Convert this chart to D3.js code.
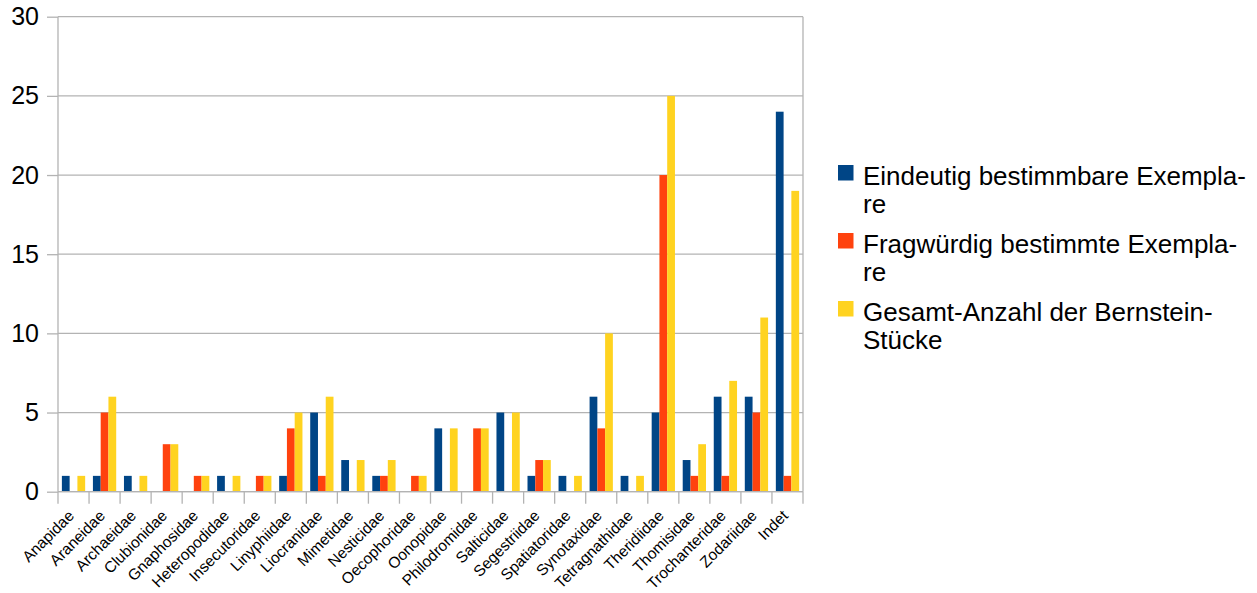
<!DOCTYPE html>
<html>
<head>
<meta charset="utf-8">
<script src="https://cdn.jsdelivr.net/npm/d3@7"></script>
<style>
  html, body { margin: 0; padding: 0; background: #fff; }
  svg { display: block; font-family: "Liberation Sans", Arial, sans-serif; }
</style>
</head>
<body>
<svg id="chart" width="1257" height="593"></svg>
<script>
// Spider families found in amber
const families = ["Anapidae", "Araneidae", "Archaeidae", "Clubionidae", "Gnaphosidae",
  "Heteropodidae", "Insecutoridae", "Linyphiidae", "Liocranidae", "Mimetidae",
  "Nesticidae", "Oecophoridae", "Oonopidae", "Philodromidae", "Salticidae",
  "Segestriidae", "Spatiatoridae", "Synotaxidae", "Tetragnathidae", "Theridiidae",
  "Thomisidae", "Trochanteridae", "Zodariidae", "Indet"];

const eindeutig  = [1, 1, 1, 0, 0, 1, 0, 1, 5, 2, 1, 0, 4, 0, 5, 1, 1, 6, 1, 5, 2, 6, 6, 24];
const fragwuerdig = [0, 5, 0, 3, 1, 0, 1, 4, 1, 0, 1, 1, 0, 4, 0, 2, 0, 4, 0, 20, 1, 1, 5, 1];
const gesamt     = [1, 6, 1, 3, 1, 1, 1, 5, 6, 2, 2, 1, 4, 4, 5, 2, 1, 10, 1, 25, 3, 7, 11, 19];

const seriesNames = ["Eindeutig bestimmbare Exemplare", "Fragwürdig bestimmte Exemplare", "Gesamt-Anzahl der Bernstein-Stücke"];
const legendLines = [
  ["Eindeutig bestimmbare Exempla-", "re"],
  ["Fragwürdig bestimmte Exempla-", "re"],
  ["Gesamt-Anzahl der Bernstein-", "Stücke"]
];
const seriesValues = [eindeutig, fragwuerdig, gesamt];
const colors = ["#004586", "#ff420e", "#ffd320"];
const yTicks = [0, 5, 10, 15, 20, 25, 30];

const svg = d3.select("#chart");
const plot = { left: 58, right: 803, top: 16.7, bottom: 491.7 };
const gridColor = "#b3b3b3";

const x0 = d3.scaleBand().domain(families).range([plot.left, plot.right]).paddingInner(0).paddingOuter(0);
const bw = x0.bandwidth();
const x1 = d3.scaleBand().domain(d3.range(seriesNames.length)).range([bw / 8, bw * 7 / 8]);
const y = d3.scaleLinear().domain([0, 30]).range([plot.bottom, plot.top]);

// horizontal gridlines
svg.append("g").selectAll("line").data(yTicks).join("line")
  .attr("x1", plot.left).attr("x2", plot.right)
  .attr("y1", d => y(d)).attr("y2", d => y(d))
  .attr("stroke", gridColor).attr("stroke-width", 1.3);

// right-hand border of the plot area
svg.append("line")
  .attr("x1", plot.right).attr("x2", plot.right)
  .attr("y1", plot.top).attr("y2", plot.bottom)
  .attr("stroke", gridColor).attr("stroke-width", 1.3);

// bars
const rows = families.map((f, i) => seriesValues.map((vals, s) => ({ f, s, v: vals[i] })));
svg.append("g").selectAll("g").data(rows).join("g")
  .attr("transform", d => `translate(${x0(d[0].f)},0)`)
  .selectAll("rect").data(d => d.filter(e => e.v > 0)).join("rect")
  .attr("x", d => x1(d.s))
  .attr("width", x1.bandwidth())
  .attr("y", d => y(d.v))
  .attr("height", d => y(0) - y(d.v))
  .attr("fill", d => colors[d.s]);

// y axis
const yAxis = d3.axisLeft(y).tickValues(yTicks).tickSize(11).tickPadding(8);
const gy = svg.append("g").attr("transform", `translate(${plot.left},0)`).call(yAxis);
gy.select(".domain").attr("stroke", gridColor).attr("stroke-width", 1.3)
  .attr("d", `M0,${plot.top}V${plot.bottom}`);
gy.selectAll(".tick line").attr("stroke", gridColor).attr("stroke-width", 1.3);
gy.selectAll(".tick text").attr("font-size", 25).attr("fill", "#000")
  .attr("font-family", "Liberation Sans, Arial, sans-serif");

// x axis with ticks at category boundaries
const gx = svg.append("g").attr("transform", `translate(0,${plot.bottom})`);
gx.append("line").attr("x1", plot.left).attr("x2", plot.right)
  .attr("stroke", gridColor).attr("stroke-width", 1.3);
const bounds = families.map(f => x0(f)).concat([plot.right]);
gx.selectAll("line.tk").data(bounds).join("line").attr("class", "tk")
  .attr("x1", d => d).attr("x2", d => d).attr("y1", 0).attr("y2", 12)
  .attr("stroke", gridColor).attr("stroke-width", 1.3);
gx.selectAll("text").data(families).join("text")
  .attr("transform", d => `translate(${x0(d) + bw / 2 + 1.5},${25}) rotate(-45)`)
  .attr("text-anchor", "end")
  .attr("font-size", 15.5)
  .attr("fill", "#000")
  .text(d => d);

// legend
const legend = svg.append("g");
legendLines.forEach((lines, i) => {
  const top = 165 + i * 68;
  legend.append("rect").attr("x", 838).attr("y", top).attr("width", 15.5).attr("height", 15.5)
    .attr("fill", colors[i]);
  const t = legend.append("text").attr("font-size", 26).attr("fill", "#000");
  lines.forEach((ln, k) => {
    t.append("tspan").attr("x", 863).attr("y", top + 20 + k * 28.3).text(ln);
  });
});
</script>
</body>
</html>
